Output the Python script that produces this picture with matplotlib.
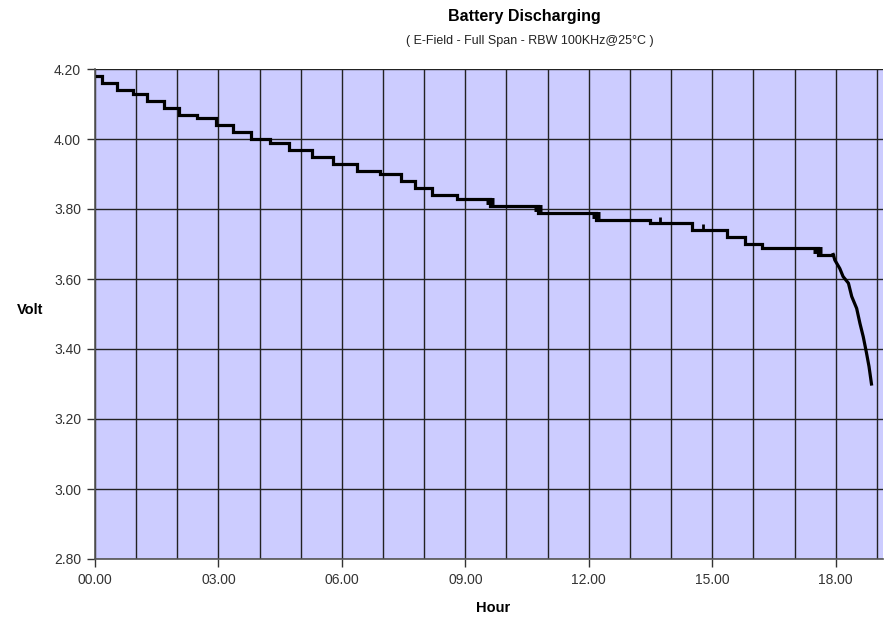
import numpy as np
import matplotlib.pyplot as plt
from matplotlib.ticker import MultipleLocator, FuncFormatter

# step part of the curve: hour where each level starts, and the level (V)
step_hours = [0.00, 0.16, 0.53, 0.93, 1.27, 1.68, 2.05, 2.47, 2.94, 3.35, 3.78,
              4.25, 4.72, 5.27, 5.79, 6.37, 6.93, 7.43, 7.78, 8.18, 8.79, 9.60,
              10.77, 12.17, 13.49, 14.50, 15.37, 15.80, 16.20, 17.56, 17.94]
step_volts = [4.18, 4.16, 4.14, 4.13, 4.11, 4.09, 4.07, 4.06, 4.04, 4.02, 4.00,
              3.99, 3.97, 3.95, 3.93, 3.91, 3.90, 3.88, 3.86, 3.84, 3.83, 3.81,
              3.79, 3.77, 3.76, 3.74, 3.72, 3.70, 3.69, 3.67, 3.67]

# final drop at the end of discharge
tail_hours = [17.94, 17.98, 18.10, 18.18, 18.31, 18.39, 18.51, 18.59, 18.67, 18.75, 18.81, 18.87]
tail_volts = [3.67, 3.654, 3.63, 3.607, 3.588, 3.55, 3.516, 3.473, 3.435, 3.388, 3.35, 3.30]

# thick blocks at some level changes (noisy readings)
block_hours = [9.60, 10.77, 12.17, 17.56]
block_volts = [3.83, 3.81, 3.79, 3.69]

# short upward spikes
spike_hours = [13.72, 14.78]
spike_volts = [3.76, 3.74]

fig = plt.figure(figsize=(8.88, 6.21), dpi=100)
ax = fig.add_axes([95 / 888, 1 - 559 / 621, 788 / 888, 490 / 621])
ax.set_facecolor('#ccccff')

ax.step(step_hours, step_volts, where='post', color='black', lw=2.3, solid_joinstyle='miter')
ax.plot(tail_hours, tail_volts, color='black', lw=2.3)
for h, v in zip(block_hours, block_volts):
    ax.plot([h - 0.1, h + 0.1], [v - 0.006, v - 0.006], color='black', lw=5,
            solid_capstyle='butt')
for h, v in zip(spike_hours, spike_volts):
    ax.plot([h, h], [v, v + 0.018], color='black', lw=2, solid_capstyle='butt')

ax.set_xlim(0, 19.15)
ax.set_ylim(2.80, 4.20)

ax.xaxis.set_major_locator(MultipleLocator(3))
ax.xaxis.set_minor_locator(MultipleLocator(1))
ax.yaxis.set_major_locator(MultipleLocator(0.2))
ax.xaxis.set_major_formatter(FuncFormatter(lambda x, p: f'{int(round(x)):02d}.00'))
ax.yaxis.set_major_formatter(FuncFormatter(lambda y, p: f'{y:.2f}'))

ax.grid(which='both', axis='x', color='#222222', lw=1.0)
ax.grid(which='major', axis='y', color='#222222', lw=1.0)
ax.set_axisbelow(True)

ax.tick_params(which='major', direction='out', length=6, width=1, color='#333333',
               labelsize=10, labelcolor='#333333', pad=4)
ax.tick_params(which='minor', length=0)
for lab in ax.get_xticklabels() + ax.get_yticklabels():
    lab.set_family('Liberation Sans')

for s in ['top', 'right']:
    ax.spines[s].set_visible(False)
for s in ['left', 'bottom']:
    ax.spines[s].set_color('#555555')
    ax.spines[s].set_linewidth(1.2)

fig.text(524 / 888, 1 - 16 / 621, 'Battery Discharging', ha='center', va='center',
         fontsize=11.5, fontweight='bold', family='Liberation Sans')
fig.text(530 / 888, 1 - 41 / 621, '( E-Field - Full Span - RBW 100KHz@25°C )',
         ha='center', va='center', fontsize=9, color='#222222', family='Liberation Sans')
fig.text(30 / 888, 1 - 310 / 621, 'Volt', ha='center', va='center',
         fontsize=10.5, fontweight='bold', family='Liberation Sans')
fig.text(493 / 888, 1 - 608 / 621, 'Hour', ha='center', va='center',
         fontsize=10.5, fontweight='bold', family='Liberation Sans')

plt.savefig('out.png', dpi=100)
